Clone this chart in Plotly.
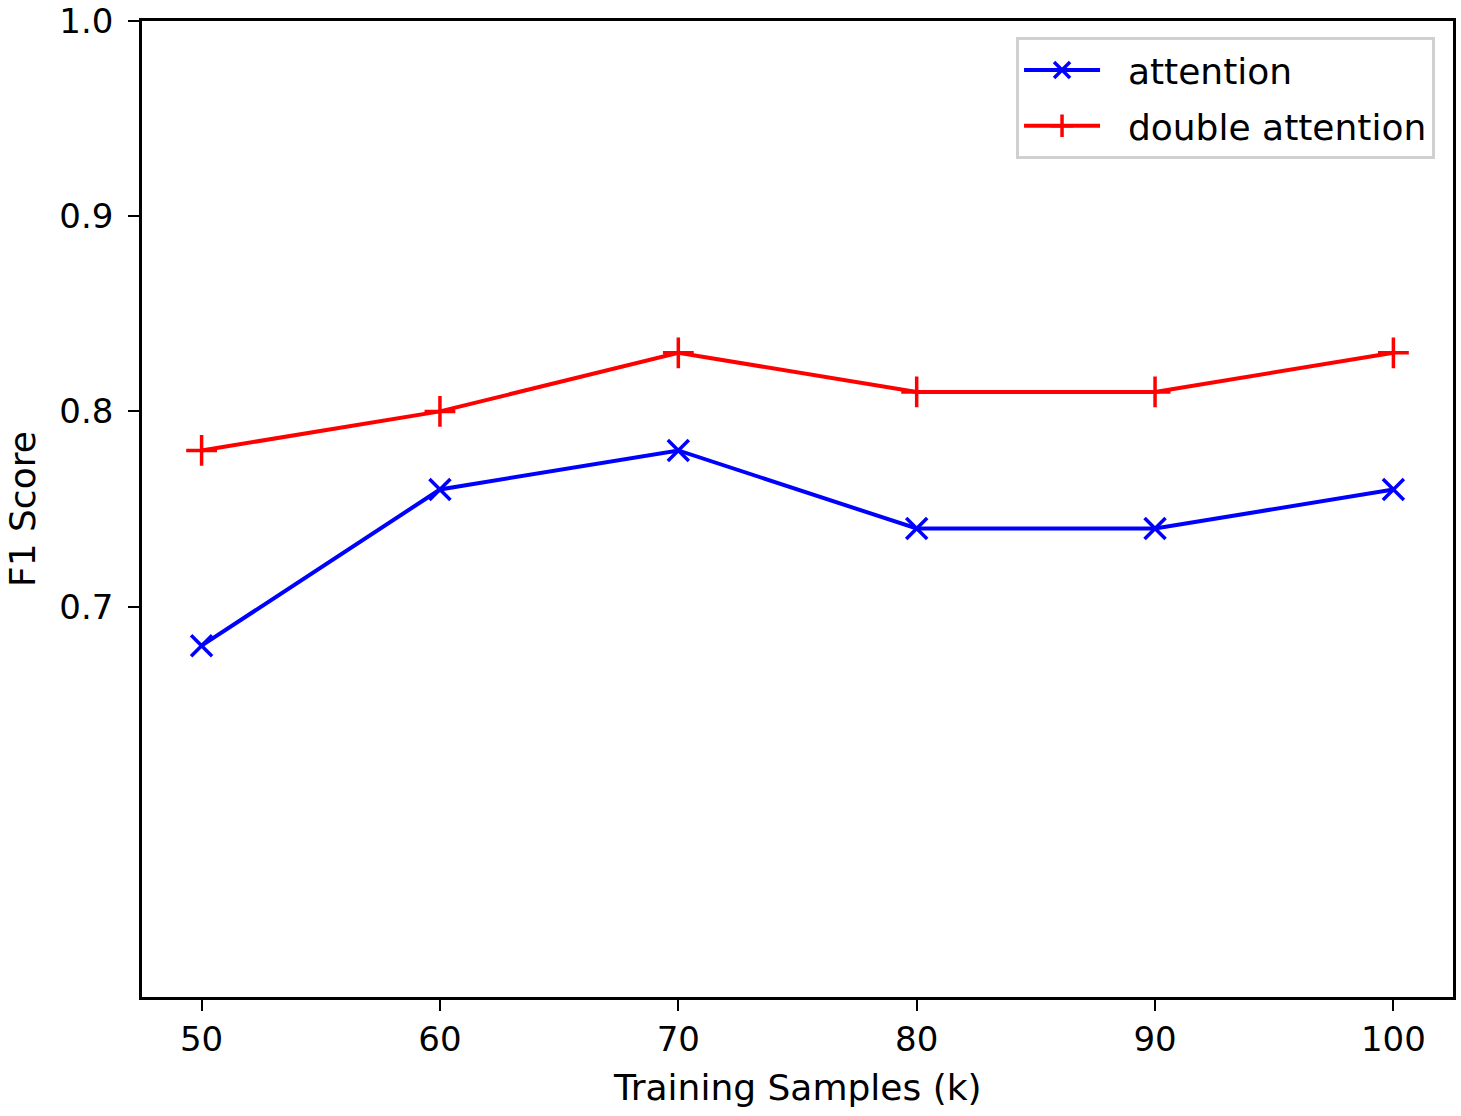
import plotly.graph_objects as go

samples = [50, 60, 70, 80, 90, 100]
attention = [0.68, 0.76, 0.78, 0.74, 0.74, 0.76]
double_attention = [0.78, 0.80, 0.83, 0.81, 0.81, 0.83]
x_ticks = [50, 60, 70, 80, 90, 100]
y_ticks = [0.7, 0.8, 0.9, 1.0]
y_tick_labels = ["0.7", "0.8", "0.9", "1.0"]
series_names = ["attention", "double attention"]

pad = "\u00a0\u00a0"

fig = go.Figure()
fig.add_trace(go.Scatter(
    x=samples, y=attention, mode="lines+markers", name=pad + series_names[0],
    legendgroup="a",
    line=dict(color="#0000ff", width=4),
    marker=dict(symbol="x-thin", size=21, line=dict(color="#0000ff", width=3.5)),
))
fig.add_trace(go.Scatter(
    x=samples, y=double_attention, mode="lines+markers", name=pad + series_names[1],
    legendgroup="b",
    line=dict(color="#ff0000", width=4),
    marker=dict(symbol="cross-thin", size=22, line=dict(color="#ff0000", width=3.5)),
))

fig.update_layout(
    width=1461, height=1116,
    margin=dict(l=142, r=8, t=21, b=119),
    paper_bgcolor="white", plot_bgcolor="white",
    font=dict(family="DejaVu Sans", size=34, color="black"),
    showlegend=True,
    legend=dict(
        x=0.9863, y=0.9836, xanchor="right", yanchor="top",
        bgcolor="white", bordercolor="#d0d0d0", borderwidth=3,
        font=dict(size=36), tracegroupgap=6, itemwidth=76,
    ),
    xaxis=dict(
        range=[47.5, 102.5], tickvals=x_ticks,
        ticks="outside", ticklen=11, tickwidth=2, tickcolor="black",
        showline=True, linecolor="black", linewidth=2.5, mirror=True,
        showgrid=False, zeroline=False, automargin=False,
        tickfont=dict(size=34), ticklabelstandoff=-1, ticklabeloverflow="allow",
    ),
    yaxis=dict(
        range=[0.5, 1.0], tickvals=y_ticks, ticktext=y_tick_labels,
        ticks="outside", ticklen=11, tickwidth=2, tickcolor="black",
        showline=True, linecolor="black", linewidth=2.5, mirror=True,
        showgrid=False, zeroline=False, automargin=False,
        tickfont=dict(size=34), ticklabelstandoff=8, ticklabeloverflow="allow",
    ),
    annotations=[
        dict(text="Training Samples (k)", xref="paper", yref="paper",
             x=0.5, y=-0.093, xanchor="center", yanchor="middle",
             showarrow=False, font=dict(size=36)),
        dict(text="F1 Score", xref="paper", yref="paper",
             x=-0.0915, y=0.5, xanchor="center", yanchor="middle",
             textangle=-90, showarrow=False, font=dict(size=36)),
    ],
)

fig.write_html("out.html", config={"displayModeBar": False},
               post_script="document.body.style.margin='0px';")
